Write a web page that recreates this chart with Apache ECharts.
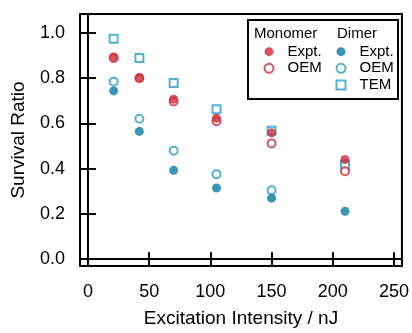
<!DOCTYPE html>
<html>
<head>
<meta charset="utf-8">
<script src="https://cdn.jsdelivr.net/npm/echarts@6/dist/echarts.min.js"></script>
<style>
  html, body { margin: 0; padding: 0; background: #fff; }
  #chart { width: 412px; height: 333px; }
</style>
</head>
<body>
<div id="chart"></div>
<script>
// excitation intensity (nJ)
const intensity = [21, 42, 70, 105, 150, 210];
const monomerExpt = [0.894, 0.803, 0.707, 0.623, 0.559, 0.441];
const monomerOEM = [0.89, 0.80, 0.697, 0.610, 0.512, 0.389];
const dimerExpt = [0.744, 0.565, 0.393, 0.315, 0.270, 0.212];
const dimerOEM = [0.785, 0.621, 0.480, 0.376, 0.305, 0.42];
const dimerTEM = [0.975, 0.890, 0.779, 0.663, 0.568, 0.418];

const xTicks = [0, 50, 100, 150, 200, 250];
const yTicks = [0, 0.2, 0.4, 0.6, 0.8, 1.0];

const RED = "#cc2a3a";
const BLUE = "#077c9f";
const LIGHT_BLUE = "#2a9bc6";
const FONT = "Liberation Sans, Arial, sans-serif";

const chart = echarts.init(document.getElementById("chart"));

function pairs(ys) {
  return intensity.map((x, i) => [x, ys[i]]);
}

function xAxisBase(inside) {
  return {
    type: "value",
    min: -6.5,
    max: 256.5,
    position: "bottom",
    axisLine: { show: !inside, lineStyle: { color: "#000", width: 2 } },
    axisTick: {
      show: true,
      inside: inside,
      length: inside ? 7 : 6,
      customValues: xTicks,
      lineStyle: { color: "#000", width: 2 },
    },
    axisLabel: {
      show: !inside,
      customValues: xTicks,
      margin: 17,
      fontSize: 18,
      fontFamily: FONT,
      color: "#000",
    },
    splitLine: { show: false },
  };
}

function yAxisBase(inside) {
  return {
    type: "value",
    min: -0.03,
    max: 1.084,
    position: "left",
    axisLine: { show: !inside, lineStyle: { color: "#000", width: 2 } },
    axisTick: {
      show: true,
      inside: inside,
      length: inside ? 8 : 7,
      customValues: yTicks,
      lineStyle: { color: "#000", width: 2 },
    },
    axisLabel: {
      show: !inside,
      customValues: yTicks,
      margin: 15,
      fontSize: 18,
      fontFamily: FONT,
      color: "#000",
      formatter: (v) => v.toFixed(1),
    },
    splitLine: { show: false },
  };
}

const xMain = xAxisBase(false);
xMain.name = "Excitation Intensity / nJ";
xMain.nameLocation = "middle";
xMain.nameGap = 43;
xMain.nameTextStyle = { fontSize: 19, fontFamily: FONT, color: "#000" };

const yMain = yAxisBase(false);
yMain.name = "Survival Ratio";
yMain.nameLocation = "middle";
yMain.nameGap = 52;
yMain.nameTextStyle = { fontSize: 19, fontFamily: FONT, color: "#000" };

const stripName = (name) => name.replace(/^(Monomer|Dimer) /, "");

const legendCommon = {
  orient: "vertical",
  padding: 0,
  itemWidth: 9,
  itemHeight: 9,
  itemGap: 0,
  selectedMode: false,
  formatter: stripName,
  textStyle: {
    fontSize: 15,
    fontFamily: FONT,
    color: "#000",
    lineHeight: 16.7,
    padding: [0, 0, 0, 9],
  },
};

const option = {
  animation: false,
  backgroundColor: "#fff",
  grid: {
    left: 80,
    right: 9,
    top: 14,
    bottom: 62,
    show: true,
    borderColor: "#000",
    borderWidth: 2,
  },
  xAxis: [xMain, xAxisBase(true)],
  yAxis: [yMain, yAxisBase(true)],
  legend: [
    Object.assign({}, legendCommon, {
      left: 263.5,
      top: 43.3,
      data: [
        { name: "Monomer Expt.", icon: "circle" },
        { name: "Monomer OEM", icon: "emptyCircle" },
      ],
    }),
    Object.assign({}, legendCommon, {
      left: 335.5,
      top: 43.3,
      data: [
        { name: "Dimer Expt.", icon: "circle" },
        { name: "Dimer OEM", icon: "emptyCircle" },
        { name: "TEM", icon: "emptyRect" },
      ],
    }),
  ],
  graphic: [
    {
      type: "rect",
      z: 1,
      shape: { x: 248, y: 20, width: 150, height: 79 },
      style: { fill: "#fff", stroke: "#000", lineWidth: 2 },
    },
    {
      type: "text",
      z: 2,
      left: 254,
      top: 26,
      style: { text: "Monomer", fontSize: 15, fontFamily: FONT, fill: "#000" },
    },
    {
      type: "text",
      z: 2,
      left: 337,
      top: 26,
      style: { text: "Dimer", fontSize: 15, fontFamily: FONT, fill: "#000" },
    },
  ],
  series: [
    {
      name: "Dimer OEM",
      type: "scatter",
      symbol: "emptyCircle",
      symbolSize: 8,
      itemStyle: { color: LIGHT_BLUE, borderWidth: 1.3 },
      data: pairs(dimerOEM),
    },
    {
      name: "TEM",
      type: "scatter",
      symbol: "emptyRect",
      symbolSize: 8,
      itemStyle: { color: LIGHT_BLUE, borderWidth: 1.3 },
      data: pairs(dimerTEM),
    },
    {
      name: "Dimer Expt.",
      type: "scatter",
      symbol: "circle",
      symbolSize: 9,
      itemStyle: { color: BLUE },
      data: pairs(dimerExpt),
    },
    {
      name: "Monomer OEM",
      type: "scatter",
      symbol: "emptyCircle",
      symbolSize: 8,
      itemStyle: { color: RED, borderWidth: 1.3 },
      data: pairs(monomerOEM),
    },
    {
      name: "Monomer Expt.",
      type: "scatter",
      symbol: "circle",
      symbolSize: 9,
      itemStyle: { color: RED },
      data: pairs(monomerExpt),
    },
  ],
};

chart.setOption(option);
</script>
</body>
</html>
